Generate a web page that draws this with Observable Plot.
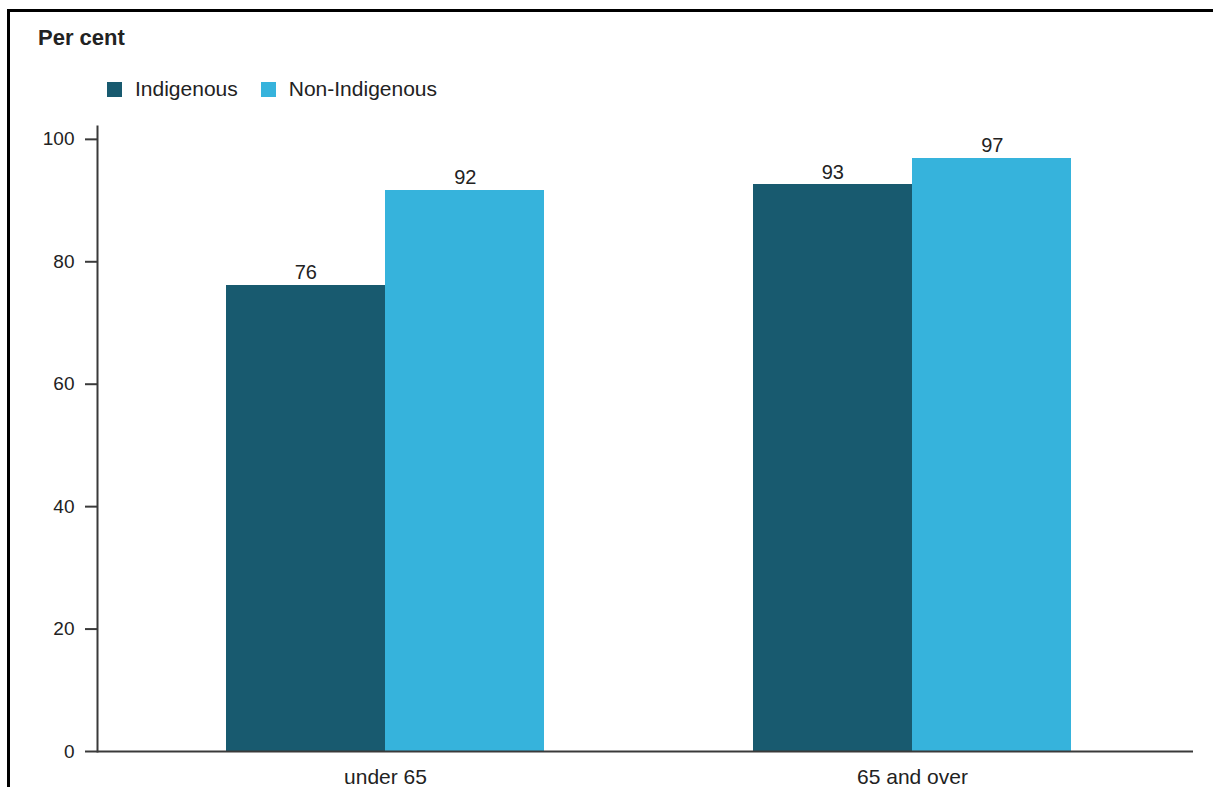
<!DOCTYPE html>
<html>
<head>
<meta charset="utf-8">
<script src="https://cdn.jsdelivr.net/npm/d3@7"></script>
<script src="https://cdn.jsdelivr.net/npm/@observablehq/plot@0.6"></script>
<style>
  html, body { margin: 0; padding: 0; background: #fff; }
  #wrap { position: relative; width: 1213px; height: 787px; overflow: hidden; font-family: "Liberation Sans", Arial, sans-serif; }
  #frame { position: absolute; left: 7px; top: 9px; width: 1300px; height: 900px; border-top: 3px solid #000; border-left: 3px solid #000; box-sizing: border-box; }
  #chart { position: absolute; left: 0; top: 0; }
  #title { position: absolute; left: 38px; top: 25px; font-weight: bold; font-size: 22px; color: #222; }
  #legend { position: absolute; left: 107px; top: 77px; font-size: 21px; color: #222; display: flex; align-items: center; }
  .item { display: flex; align-items: center; margin-right: 23px; }
  .sw { width: 15px; height: 15px; margin-right: 13px; display: inline-block; }
</style>
</head>
<body>
<div id="wrap">
  <div id="frame"></div>
  <div id="chart"></div>
  <div id="title">Per cent</div>
  <div id="legend"></div>
</div>
<script>
const categories = ["under 65", "65 and over"];
const seriesNames = ["Indigenous", "Non-Indigenous"];
const indigenous = [76.2, 92.6];
const nonIndigenous = [91.7, 96.9];
const yTicks = [0, 20, 40, 60, 80, 100];
const colors = ["#185a6f", "#36b3dc"];

const rows = [];
categories.forEach((c, i) => {
  rows.push({category: c, series: seriesNames[0], value: indigenous[i]});
  rows.push({category: c, series: seriesNames[1], value: nonIndigenous[i]});
});
const ind = rows.filter(d => d.series === seriesNames[0]);
const non = rows.filter(d => d.series === seriesNames[1]);

const half = 159.5;
const plot = Plot.plot({
  width: 1213,
  height: 787,
  marginLeft: 97,
  marginRight: 20,
  marginTop: 126,
  marginBottom: 36,
  style: {fontFamily: "Liberation Sans, Arial, sans-serif", fontSize: "19px", color: "#222", background: "transparent"},
  x: {type: "band", domain: categories, paddingInner: 0.3958, paddingOuter: 0.236, align: 0.514, label: null},
  y: {domain: [0, 102.1], label: null},
  color: {domain: seriesNames, range: colors},
  marks: [
    Plot.barY(ind, {x: "category", y: "value", fill: colors[0], insetRight: half - 0.5, shapeRendering: "crispEdges"}),
    Plot.barY(non, {x: "category", y: "value", fill: colors[1], insetLeft: half - 0.5, shapeRendering: "crispEdges"}),
    Plot.text(ind, {x: "category", y: "value", text: d => String(Math.round(d.value)), dx: -half / 2, dy: -6, lineAnchor: "bottom", fill: "#222", fontSize: 20}),
    Plot.text(non, {x: "category", y: "value", text: d => String(Math.round(d.value)), dx: half / 2, dy: -6, lineAnchor: "bottom", fill: "#222", fontSize: 20}),
    Plot.axisY({ticks: yTicks, tickSize: 12, tickPadding: 11, stroke: "#3a3a3a", strokeWidth: 2, label: null, fontSize: 19}),
    Plot.frame({anchor: "left", stroke: "#3a3a3a", strokeWidth: 2}),
    Plot.axisX({tickSize: 0, tickPadding: 18, label: null, fontSize: 21}),
    Plot.ruleY([0], {stroke: "#3a3a3a", strokeWidth: 2})
  ]
});
document.getElementById("chart").appendChild(plot);

const legend = document.getElementById("legend");
seriesNames.forEach((s, i) => {
  const it = document.createElement("div");
  it.className = "item";
  const sw = document.createElement("span");
  sw.className = "sw";
  sw.style.background = colors[i];
  it.appendChild(sw);
  it.appendChild(document.createTextNode(s));
  legend.appendChild(it);
});
</script>
</body>
</html>
